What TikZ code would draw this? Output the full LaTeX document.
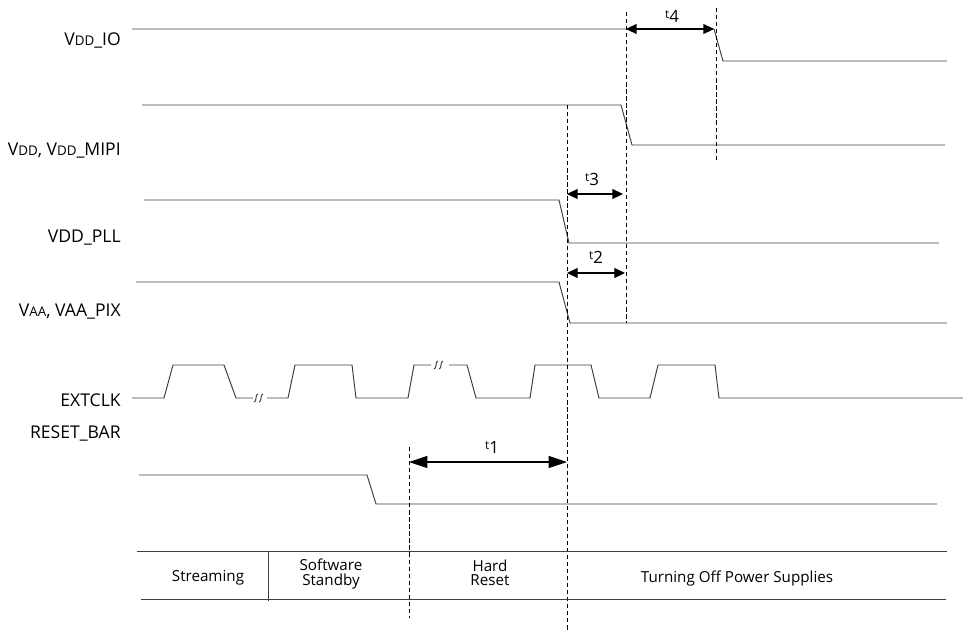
\documentclass[tikz,border=0pt]{standalone}
\usepackage{fontspec}
\setmainfont{Open Sans}
\usetikzlibrary{arrows.meta}

% small caps used in the supply names
\newcommand{\sm}[1]{{\fontsize{9.5}{10}\selectfont #1}}
% time label t with index
\newcommand{\tlab}[1]{{\fontsize{8.5}{9}\selectfont t}\raisebox{-2.5pt}{#1}}
% break mark on the clock line
\newcommand{\clkbreak}[2]{%
  \draw[wave] (#1-2,#2+4) .. controls (#1+1,#2+4) and (#1-1,#2-4) .. (#1+2,#2-4);
  \draw[wave] (#1+3,#2+4) .. controls (#1+6,#2+4) and (#1+4,#2-4) .. (#1+7,#2-4);}

\begin{document}
\begin{tikzpicture}[x=0.025cm, y=-0.025cm,
    wave/.style={draw=black!75, line width=0.7pt},
    guide/.style={draw=black, line width=0.6pt, dash pattern=on 3pt off 2pt},
    span/.style={{Triangle[length=7.5pt,width=7pt]}-{Triangle[length=7.5pt,width=7pt]}, line width=0.8pt},
    bigspan/.style={{Triangle[length=13pt,width=8.5pt]}-{Triangle[length=13pt,width=8.5pt]}, line width=0.8pt},
    siglabel/.style={anchor=east, inner sep=0pt, font=\fontsize{12.5}{13}\selectfont},
    phase/.style={align=center, inner sep=0pt, font=\fontsize{10.8}{10}\selectfont},
    tlabel/.style={inner sep=0pt, font=\fontsize{12}{13}\selectfont}
  ]
    \useasboundingbox (0,0) rectangle (963,632);

    % signal names
    \node[siglabel] (io)    at (121,40)  {V\sm{DD}\_IO};
    \node[siglabel] (mipi)  at (121,151) {V\sm{DD}, V\sm{DD}\_MIPI};
    \node[siglabel] (pll)   at (121,238) {VDD\_PLL};
    \node[siglabel] (pix)   at (121,312) {V\sm{AA}, VAA\_PIX};
    \node[siglabel] (clk)   at (121,400) {EXTCLK};
    \node[siglabel] (reset) at (121,433) {RESET\_BAR};

    % supply waveforms
    \draw[wave] (132,29) -- (714,29) -- (723,61) -- (947,61);
    \draw[wave] (142,105) -- (621,105) -- (632,145) -- (945,145);
    \draw[wave] (144,200) -- (559,200) -- (569,243) -- (939,243);
    \draw[wave] (136,282) -- (559,282) -- (570,323) -- (947,323);

    % clock
    \draw[wave] (132,398) -- (164,398) -- (173,365) -- (224,365) -- (236,398) -- (253,398);
    \clkbreak{256}{398}
    \draw[wave] (267,398) -- (288,398) -- (295,365) -- (352,365) -- (356,398) -- (408,398)
        -- (414,365) -- (431,365);
    \clkbreak{436}{365}
    \draw[wave] (449,365) -- (467,365) -- (476,398) -- (530,398) -- (535,365) -- (591,365)
        -- (599,398) -- (650,398) -- (658,365) -- (715,365) -- (719,398) -- (963,398);

    % reset
    \draw[wave] (139,475) -- (367,475) -- (376,504) -- (937,504);

    % guides
    \coordinate (g1a) at (409,447);  \coordinate (g1b) at (409,618);
    \coordinate (g2a) at (567,105);  \coordinate (g2b) at (567,632);
    \coordinate (g3a) at (626,12);   \coordinate (g3b) at (626,323);
    \coordinate (g4a) at (716,8);    \coordinate (g4b) at (716,162);
    \foreach \g in {g1,g2,g3,g4}
        \draw[guide] (\g a) -- (\g b);

    % timing spans
    \coordinate (t1a) at (409,462);  \coordinate (t1b) at (567,462);
    \coordinate (t2a) at (567,273);  \coordinate (t2b) at (625,273);
    \coordinate (t3a) at (567,194);  \coordinate (t3b) at (623,194);
    \coordinate (t4a) at (626,29);   \coordinate (t4b) at (714,29);
    \draw[bigspan] (t1a) -- (t1b);
    \draw[span] (t2a) -- (t2b);
    \draw[span] (t3a) -- (t3b);
    \draw[span] (t4a) -- (t4b);
    \node[tlabel] (n1) at (492,447) {\tlab{1}};
    \node[tlabel] (n2) at (596,257) {\tlab{2}};
    \node[tlabel] (n3) at (592,179) {\tlab{3}};
    \node[tlabel] (n4) at (672,16)  {\tlab{4}};

    % phase table
    \draw[wave] (137,551) -- (947,551);
    \draw[wave] (141,599) -- (946,599);
    \draw[wave] (268,551) -- (268,601);
    \node[phase] (stream) at (208,578) {Streaming};
    \node[phase] (stby)   at (331,574) {Software\\Standby};
    \node[phase] (hard)   at (490,573) {Hard\\Reset};
    \node[phase] (off)    at (737,579) {Turning Off Power Supplies};
\end{tikzpicture}
\end{document}
